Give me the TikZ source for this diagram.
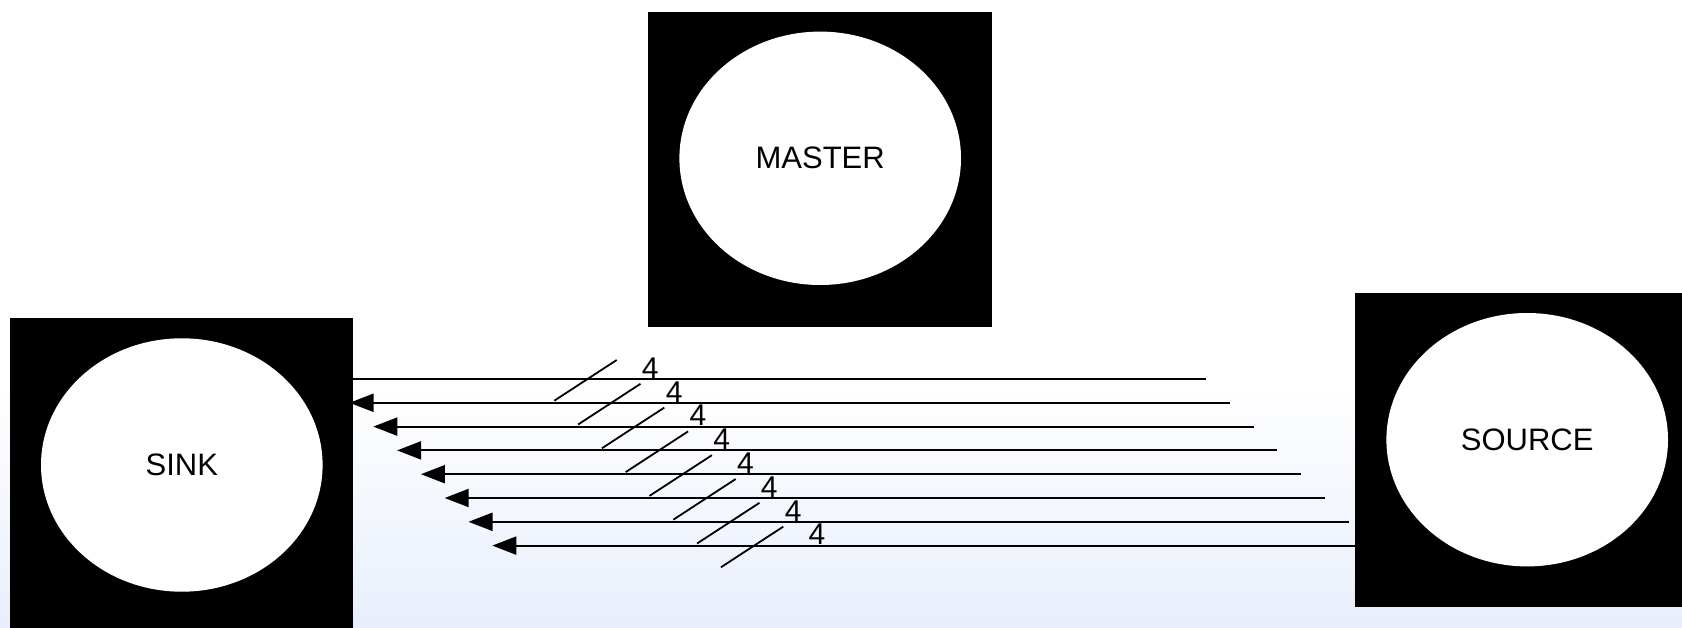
\documentclass[tikz,border=0pt]{standalone}
\usepackage{fontspec}
\setmainfont{Liberation Sans}
\usetikzlibrary{arrows.meta,shapes.geometric}
\definecolor{bgblue}{RGB}{232,238,251}
\begin{document}
\begin{tikzpicture}[x=1pt,y=-1pt,
  box/.style={shape=rectangle, fill=black, draw=none, minimum width=343.4pt, minimum height=314.4pt, inner sep=0pt},
  oval/.style={ellipse, fill=white, draw=none, minimum width=281.6pt, minimum height=253.4pt, inner sep=0pt, font=\fontsize{31}{31}\selectfont},
  bus/.style={line width=2pt, -{Triangle[length=24pt,width=18pt]}},
  slash/.style={line width=1.8pt},
  count/.style={font=\fontsize{30}{30}\selectfont, inner sep=0pt, anchor=base}]
\useasboundingbox (0,0) rectangle (1682,628);
\begin{scope}
\clip (0,0) rectangle (1682,628);
\shade[top color=white, bottom color=bgblue] (0,385) rectangle (1682,628);
\foreach \i in {0,...,7} {
  \pgfmathsetmacro{\d}{23.8*\i}
  \coordinate (s\i) at (1206+\d, 379+\d);
  \coordinate (e\i) at (325.7+\d, 379+\d);
  \coordinate (p\i) at (554.3+\d, 400.7+\d);
  \coordinate (q\i) at (616.7+\d, 360+\d);
  \draw[bus] (s\i) -- (e\i);
  \draw[slash] (p\i) -- (q\i);
  \node[count] (n\i) at (650.3+\d, 378.3+\d) {4};
}
\node[box] (masterbox) at (820,169.5) {};
\node[oval] (master) at (820.2,158.3) {MASTER};
\node[box] (sinkbox) at (181.7,475.5) {};
\node[oval] (sink) at (181.8,465) {SINK};
\node[box] (sourcebox) at (1526.7,449.9) {};
\node[oval] (source) at (1527.2,439.7) {SOURCE};
\end{scope}
\end{tikzpicture}
\end{document}
